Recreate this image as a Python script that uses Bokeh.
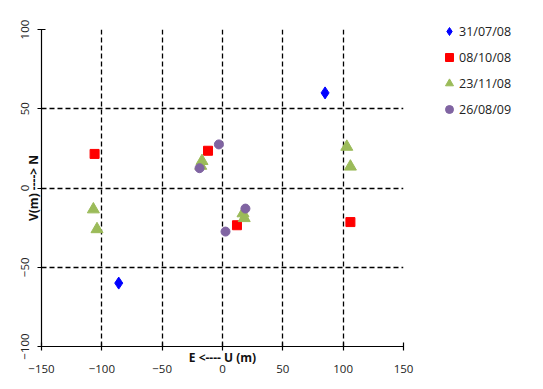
from bokeh.plotting import figure
from bokeh.models import Range1d, FixedTicker, Legend, LegendItem
from bokeh.embed import file_html
from bokeh.resources import INLINE

# Data (E-U in m, V in m)
d1_x = [85, -86]
d1_y = [60, -60]
d2_x = [-106, -12, 12, 106]
d2_y = [21.5, 23.5, -23.5, -21.5]
d3_x = [-107, -104, -17, -18, 17, 18, 103, 106]
d3_y = [-13.5, -26, 17, 14, -16, -19, 26, 13.5]
d4_x = [-3, -19, 19, 2.5]
d4_y = [27.5, 12.5, -13, -27.5]
labels = ["31/07/08", "08/10/08", "23/11/08", "26/08/09"]
x_ticks = [-150, -100, -50, 0, 50, 100, 150]
y_ticks = [-100, -50, 0, 50, 100]

FONT = "Open Sans"

p = figure(frame_width=362, frame_height=317, output_backend="svg", toolbar_location=None,
           x_range=Range1d(-150, 150), y_range=Range1d(-100, 100),
           min_border_left=41, min_border_top=29, min_border_bottom=36, min_border_right=132,
           x_axis_label="E <---- U (m)", y_axis_label="V(m) ----> N")
p.outline_line_color = None
p.background_fill_color = "white"
p.border_fill_color = "white"

for ax, ticks in ((p.xaxis, x_ticks), (p.yaxis, y_ticks)):
    ax.ticker = FixedTicker(ticks=ticks)
    ax.major_tick_in = 4
    ax.major_tick_out = 4
    ax.minor_tick_line_color = None
    ax.axis_line_color = "black"
    ax.major_tick_line_color = "black"
    ax.axis_line_width = 1.2
    ax.major_tick_line_width = 1.2
    ax.major_label_text_font = FONT
    ax.major_label_text_font_size = "11.5px"
    ax.major_label_text_color = "#222222"
    ax.axis_label_text_font = FONT
    ax.axis_label_text_font_style = "bold"
    ax.axis_label_text_font_size = "12px"
    ax.axis_label_text_color = "#111111"
p.xaxis.major_label_standoff = 14
p.yaxis.major_label_standoff = 9
p.yaxis.major_label_orientation = "vertical"
p.xaxis.axis_label_standoff = -27
p.yaxis.axis_label_standoff = -24

p.xgrid.ticker = FixedTicker(ticks=x_ticks)
p.ygrid.ticker = FixedTicker(ticks=y_ticks)
for g in (p.xgrid, p.ygrid):
    g.grid_line_color = "black"
    g.grid_line_dash = "5 3"
    g.grid_line_width = 1.3

r1 = p.scatter(d1_x, d1_y, marker="diamond", size=12, color="#0000FF")
r2 = p.scatter(d2_x, d2_y, marker="square", size=9, color="#FF0000")
r3 = p.scatter(d3_x, d3_y, marker="triangle", size=12, color="#9BBB59")
r4 = p.scatter(d4_x, d4_y, marker="circle", size=9, color="#8064A2")

legend = Legend(items=[LegendItem(label=l, renderers=[r]) for l, r in zip(labels, [r1, r2, r3, r4])],
                location="top_left", margin=0, padding=0, spacing=6, glyph_width=20, glyph_height=20,
                label_height=20, label_standoff=0, border_line_color=None, background_fill_alpha=0,
                label_text_font=FONT, label_text_font_size="12.5px", label_text_color="#222222")
legend.location = (36, 227)
p.add_layout(legend, "right")

open("out.html", "w").write(file_html(p, INLINE))
